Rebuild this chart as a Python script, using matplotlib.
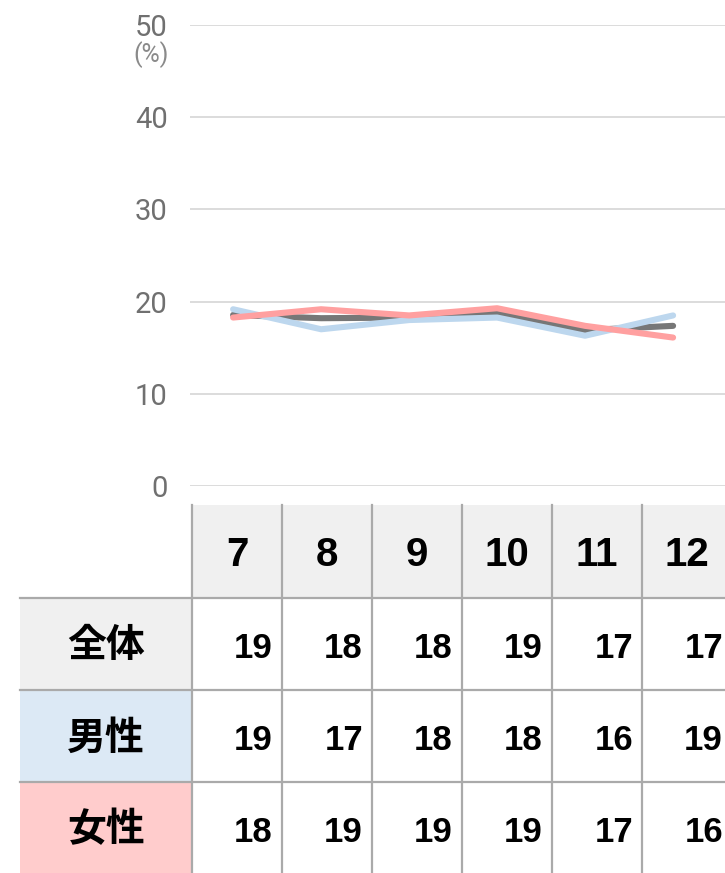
import math
import matplotlib
matplotlib.use("Agg")
import matplotlib.pyplot as plt
from matplotlib import font_manager
from matplotlib.patches import Rectangle

# ---- data -------------------------------------------------------------
months = ["7", "8", "9", "10", "11", "12"]
total = [18.55, 18.2, 18.27, 18.7, 16.9, 17.37]
male = [19.17, 17.0, 18.0, 18.27, 16.3, 18.5]
female = [18.27, 19.17, 18.5, 19.28, 17.37, 16.1]
row_names = ["全体", "男性", "女性"]
yticks = [0, 10, 20, 30, 40, 50]

line_colors = ["#777777", "#bdd7ee", "#ffa0a0"]
row_bg = ["#f0f0f0", "#dce9f5", "#ffcccc"]

# ---- fonts ------------------------------------------------------------
available = {f.name for f in font_manager.fontManager.ttflist}
num_font = "Liberation Sans Narrow" if "Liberation Sans Narrow" in available else "Liberation Sans"
cjk_font = ["Noto Sans CJK JP", "DejaVu Sans"]
tick_font = "Roboto" if "Roboto" in available else "DejaVu Sans"

W, H = 725, 873
fig = plt.figure(figsize=(W / 100, H / 100), dpi=100)
fig.patch.set_facecolor("white")

# ---- line chart -------------------------------------------------------
top_px, bot_px = 25, 486
left_px, right_px = 190, 725
ax = fig.add_axes([left_px / W, 1 - bot_px / H, (right_px - left_px) / W, (bot_px - top_px) / H])
x = list(range(len(months)))
for series, c in zip([total, male, female], line_colors):
    ax.plot(x, series, color=c, lw=4.4, solid_capstyle="round", solid_joinstyle="round",
            zorder=3, clip_on=False)
ax.set_ylim(0, 50)
ax.set_xlim(-0.49, 5.59)
ax.set_yticks(yticks)
ax.set_xticks([])
ax.grid(axis="y", color="#d9d9d9", lw=1.3)
ax.set_axisbelow(True)
for s in ax.spines.values():
    s.set_visible(False)
ax.tick_params(axis="y", length=0, pad=16, labelsize=21, labelcolor="#707070")
for lab in ax.get_yticklabels():
    lab.set_fontfamily(tick_font)
ax.set_facecolor("none")

# ---- table ------------------------------------------------------------
tab = fig.add_axes([0, 0, 1, 1], zorder=-1)
tab.set_xlim(0, W)
tab.set_ylim(H, 0)
tab.axis("off")

fig.text(151 / W, 1 - 55 / H, "(%)", ha="center", va="center", fontsize=18,
         color="#8a8a8a", family=tick_font)

col_edges = [192 + 90 * i for i in range(len(months) + 1)]
row_edges = [505, 598, 690, 782, 874]
line_c = "#aaaaaa"
lw = 1.6

# header row
for i, m in enumerate(months):
    x0, x1 = col_edges[i], col_edges[i + 1]
    tab.add_patch(Rectangle((x0, row_edges[0]), 90, row_edges[1] - row_edges[0],
                            facecolor="#f0f0f0", edgecolor="none"))
    tab.text((x0 + x1) / 2, (row_edges[0] + row_edges[1]) / 2 + 4, m, ha="center",
             va="center", fontsize=29, fontweight="bold", family=num_font, color="black")

# body rows
for r, (name, vals) in enumerate(zip(row_names, [total, male, female])):
    y0, y1 = row_edges[r + 1], row_edges[r + 2]
    tab.add_patch(Rectangle((20, y0), 172, y1 - y0, facecolor=row_bg[r], edgecolor="none"))
    tab.text(106, (y0 + y1) / 2 + 2, name, ha="center", va="center", fontsize=28,
             fontweight="bold", family=cjk_font, color="black")
    for i, v in enumerate(vals):
        label = str(int(math.floor(v + 0.5)))
        tab.text(col_edges[i + 1] - 9, (y0 + y1) / 2 + 4, label, ha="right", va="center",
                 fontsize=25, fontweight="bold", family=num_font, color="black")

# grid lines
for xe in col_edges:
    tab.plot([xe, xe], [row_edges[0], H], color=line_c, lw=lw)
for ye in row_edges[1:-1]:
    tab.plot([20, W], [ye, ye], color=line_c, lw=lw)

fig.savefig("out.png", dpi=100, facecolor="white")
